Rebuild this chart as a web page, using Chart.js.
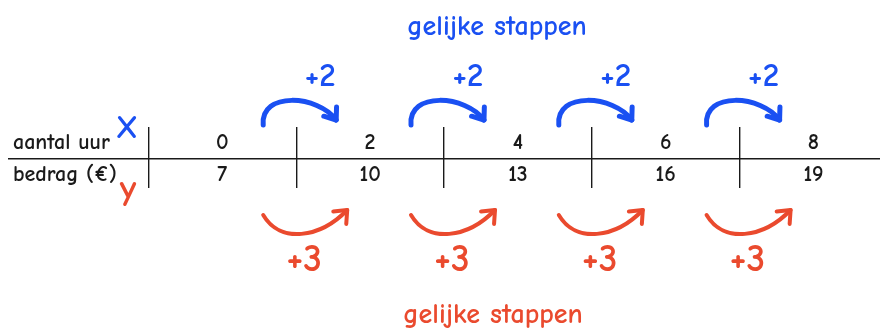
<!DOCTYPE html>
<html><head><meta charset="utf-8">
<script src="https://cdn.jsdelivr.net/npm/chart.js@4"></script>
<style>html,body{margin:0;padding:0;background:#fff;overflow:hidden}canvas{display:block}</style>
</head><body>
<div style="width:880px;height:330px"><canvas id="c" width="880" height="330"></canvas></div>
<script>
// ---- data ----
const rowLabels = ['aantal uur', 'bedrag (€)'];
const hours = [0, 2, 4, 6, 8];
const amounts = [7, 10, 13, 16, 19];
const stepCaption = 'gelijke stappen';
const varNames = ['X', 'y'];

// ---- style ----
const ROW_TOP = 0.5, ROW_BOTTOM = -0.5;
const BLUE = '#1a50f2', RED = '#ea4a2e', INK = '#1a1a1a';
const FONT = '"Comic Sans MS","Comic Neue","DejaVu Sans",sans-serif';
const half = (hours[1] - hours[0]) / 2;
const boundaries = hours.map(h => h - half);

function arrowHead(ctx, ex, ey, fx, fy, len, spread) {
  const ang = Math.atan2(ey - fy, ex - fx);
  ctx.beginPath();
  ctx.moveTo(ex + len * Math.cos(ang + Math.PI - spread), ey + len * Math.sin(ang + Math.PI - spread));
  ctx.lineTo(ex, ey);
  ctx.lineTo(ex + len * Math.cos(ang + Math.PI + spread), ey + len * Math.sin(ang + Math.PI + spread));
  ctx.stroke();
}

const drawings = {
  id: 'drawings',
  afterDatasetsDraw(chart) {
    const { ctx, chartArea: a } = chart;
    const m0 = chart.getDatasetMeta(0).data, m1 = chart.getDatasetMeta(1).data;
    ctx.save();
    // table text
    ctx.fillStyle = INK;
    ctx.font = 'bold 22px ' + FONT;
    ctx.textAlign = 'center'; ctx.textBaseline = 'middle';
    m0.forEach((p, i) => ctx.fillText(String(hours[i]), p.x, p.y));
    m1.forEach((p, i) => ctx.fillText(String(amounts[i]), p.x, p.y));
    ctx.textAlign = 'left';
    ctx.fillText(rowLabels[0], a.left + 5, m0[0].y);
    ctx.fillText(rowLabels[1], a.left + 5, m1[0].y);

    // variable names
    ctx.textAlign = 'center';
    ctx.font = 'bold 32px ' + FONT; ctx.fillStyle = BLUE;
    ctx.fillText(varNames[0], 127, 129);
    ctx.font = 'bold 36px ' + FONT; ctx.fillStyle = RED;
    ctx.fillText(varNames[1], 128, 190);

    ctx.lineCap = 'round'; ctx.lineJoin = 'round';
    const top = a.top, bot = a.bottom;
    for (let i = 0; i < hours.length - 1; i++) {
      const m = (m0[i].x + m0[i + 1].x) / 2;
      // blue arc over the top
      let cx = m + 4;
      ctx.strokeStyle = BLUE; ctx.lineWidth = 5;
      let S = [cx - 37, top - 2], C1 = [cx - 40, top - 36], C2 = [cx + 18, top - 32], E = [cx + 36, top - 7];
      ctx.beginPath(); ctx.moveTo(S[0], S[1]);
      ctx.bezierCurveTo(C1[0], C1[1], C2[0], C2[1], E[0], E[1]); ctx.stroke();
      arrowHead(ctx, E[0], E[1], C2[0], C2[1], 13, 0.65);
      ctx.fillStyle = BLUE; ctx.font = 'bold 33px ' + FONT;
      ctx.fillText('+' + (hours[i + 1] - hours[i]), m + 24, top - 50);

      // red arc underneath
      cx = m + 9;
      ctx.strokeStyle = RED; ctx.lineWidth = 4;
      S = [cx - 42, bot + 27]; C1 = [cx - 25, bot + 56]; C2 = [cx + 15, bot + 50]; E = [cx + 42, bot + 22];
      ctx.beginPath(); ctx.moveTo(S[0], S[1]);
      ctx.bezierCurveTo(C1[0], C1[1], C2[0], C2[1], E[0], E[1]); ctx.stroke();
      arrowHead(ctx, E[0], E[1], C2[0], C2[1], 14, 0.7);
      ctx.fillStyle = RED; ctx.font = 'bold 38px ' + FONT;
      ctx.fillText('+' + (amounts[i + 1] - amounts[i]), m + 8, bot + 72);
    }

    // captions
    ctx.textBaseline = 'alphabetic';
    ctx.font = 'bold 28px ' + FONT;
    ctx.fillStyle = BLUE; ctx.fillText(stepCaption, 497, 35);
    ctx.fillStyle = RED; ctx.fillText(stepCaption, 493, 323);
    ctx.restore();
  }
};

new Chart(document.getElementById('c'), {
  type: 'scatter',
  data: {
    datasets: [
      { label: rowLabels[0], data: hours.map(h => ({ x: h, y: ROW_TOP })), pointRadius: 0 },
      { label: rowLabels[1], data: hours.map(h => ({ x: h, y: ROW_BOTTOM })), pointRadius: 0 }
    ]
  },
  options: {
    responsive: false,
    animation: false,
    events: [],
    layout: { padding: { left: 8, right: 0, top: 127, bottom: 142 } },
    plugins: { legend: { display: false }, tooltip: { enabled: false } },
    scales: {
      x: {
        type: 'linear', min: -2.9, max: 8.9,
        afterBuildTicks: s => { s.ticks = boundaries.map(v => ({ value: v })); },
        ticks: { display: false },
        grid: { color: INK, lineWidth: 1.4, drawTicks: false },
        border: { display: false }
      },
      y: {
        type: 'linear', min: -0.9, max: 1,
        afterBuildTicks: s => { s.ticks = [{ value: 0 }]; },
        ticks: { display: false },
        grid: { color: INK, lineWidth: 1.6, drawTicks: false },
        border: { display: false }
      }
    }
  },
  plugins: [drawings]
});
</script>
</body></html>
